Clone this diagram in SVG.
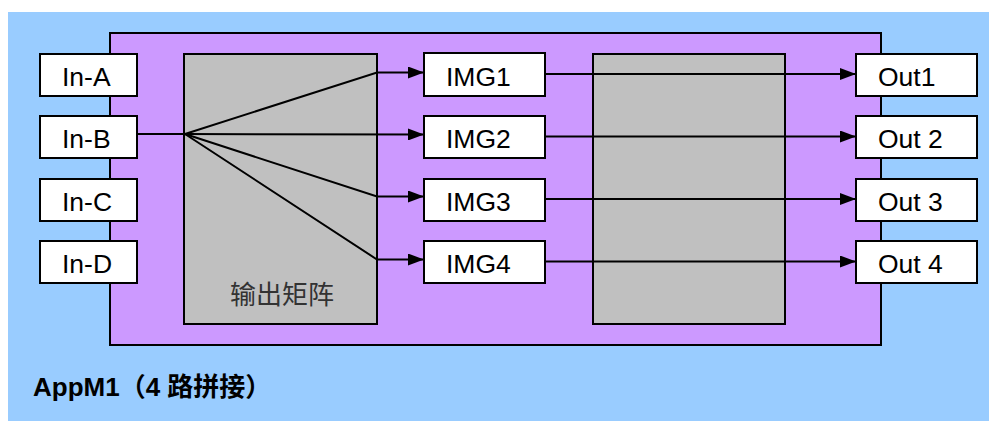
<svg xmlns="http://www.w3.org/2000/svg" width="989" height="421" viewBox="0 0 989 421">
<style>
.box{fill:#fff;stroke:#000;stroke-width:2}
.lbl{font-family:"Liberation Sans",Arial,sans-serif;font-size:26.5px;fill:#000}
.ln{stroke:#000;stroke-width:2;fill:none}
</style>
<defs>
<marker id="arr" viewBox="0 0 16 12" refX="16" refY="6" markerWidth="16" markerHeight="12" markerUnits="userSpaceOnUse" orient="auto">
<path d="M0,0 L16,6 L0,12 Z" fill="#000"/>
</marker>
</defs>
<rect x="8" y="12" width="981" height="409" fill="#99CCFF"/>
<rect x="110" y="33" width="771" height="312" fill="#CC99FF" stroke="#000" stroke-width="2"/>
<g id="matrix">
<rect x="184" y="54" width="193" height="270" fill="#C0C0C0" stroke="#000" stroke-width="2"/>
<text x="230" y="304" font-family="'Noto Sans CJK SC',sans-serif" font-size="26" fill="#333">输出矩阵</text>
</g>
<g id="splice">
<rect x="593" y="54" width="192" height="270" fill="#C0C0C0" stroke="#000" stroke-width="2"/>
</g>
<g id="connectors">
<path class="ln" d="M137,134 L185,134"/>
<path class="ln" d="M185,134 L377,72.5 L424,72.5" marker-end="url(#arr)"/>
<path class="ln" d="M185,134 L424,134.5" marker-end="url(#arr)"/>
<path class="ln" d="M185,134 L377,196.5 L424,196.5" marker-end="url(#arr)"/>
<path class="ln" d="M185,134 L377,259.5 L424,259.5" marker-end="url(#arr)"/>
<path class="ln" d="M545,74 L856,74" marker-end="url(#arr)"/>
<path class="ln" d="M545,136.5 L856,136.5" marker-end="url(#arr)"/>
<path class="ln" d="M545,199 L856,199" marker-end="url(#arr)"/>
<path class="ln" d="M545,261.5 L856,261.5" marker-end="url(#arr)"/>
</g>
<g id="in-a"><rect class="box" x="40" y="54" width="97" height="42"/><text class="lbl" x="62" y="86">In-A</text></g>
<g id="in-b"><rect class="box" x="40" y="116" width="97" height="42"/><text class="lbl" x="62" y="148">In-B</text></g>
<g id="in-c"><rect class="box" x="40" y="179" width="97" height="42"/><text class="lbl" x="62" y="211">In-C</text></g>
<g id="in-d"><rect class="box" x="40" y="241" width="97" height="42"/><text class="lbl" x="62" y="273">In-D</text></g>
<g id="img1"><rect class="box" x="424" y="53" width="121" height="43"/><text class="lbl" x="446" y="86">IMG1</text></g>
<g id="img2"><rect class="box" x="424" y="116" width="121" height="42"/><text class="lbl" x="446" y="148">IMG2</text></g>
<g id="img3"><rect class="box" x="424" y="179" width="121" height="42"/><text class="lbl" x="446" y="211">IMG3</text></g>
<g id="img4"><rect class="box" x="424" y="241" width="121" height="42"/><text class="lbl" x="446" y="273">IMG4</text></g>
<g id="out1"><rect class="box" x="856" y="54" width="121" height="42"/><text class="lbl" x="878" y="86">Out1</text></g>
<g id="out2"><rect class="box" x="856" y="116" width="121" height="42"/><text class="lbl" x="878" y="148">Out 2</text></g>
<g id="out3"><rect class="box" x="856" y="179" width="121" height="42"/><text class="lbl" x="878" y="211">Out 3</text></g>
<g id="out4"><rect class="box" x="856" y="241" width="121" height="42"/><text class="lbl" x="878" y="273">Out 4</text></g>
<text x="33" y="396" font-family="'Liberation Sans','Noto Sans CJK SC',sans-serif" font-size="26" font-weight="bold" fill="#000">AppM1（4 路拼接）</text>
</svg>
